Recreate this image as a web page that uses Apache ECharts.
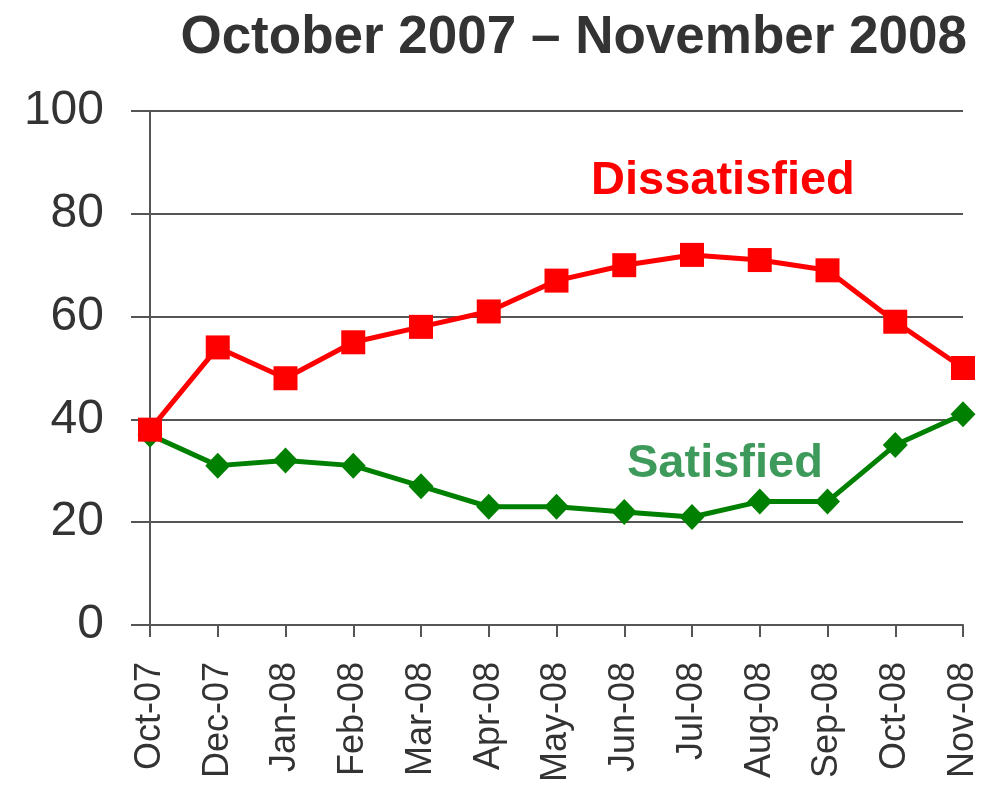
<!DOCTYPE html>
<html>
<head>
<meta charset="utf-8">
<title>Satisfaction</title>
<script src="https://cdn.jsdelivr.net/npm/echarts@6/dist/echarts.min.js"></script>
<style>
  html, body { margin: 0; padding: 0; background: #fff; }
  #main { width: 989px; height: 785px; }
</style>
</head>
<body>
<div id="main"></div>
<script>
var months = ['Oct-07', 'Dec-07', 'Jan-08', 'Feb-08', 'Mar-08', 'Apr-08', 'May-08',
              'Jun-08', 'Jul-08', 'Aug-08', 'Sep-08', 'Oct-08', 'Nov-08'];
var dissatisfied = [38, 54, 48, 55, 58, 61, 67, 70, 72, 71, 69, 59, 50];
var satisfied = [37, 31, 32, 31, 27, 23, 23, 22, 21, 24, 24, 35, 41];
var yTicks = [0, 20, 40, 60, 80, 100];

var font = '"Liberation Sans", Arial, sans-serif';
var myChart = echarts.init(document.getElementById('main'));

var option = {
  animation: false,
  title: {
    text: 'October 2007 \u2013 November 2008',
    right: 17,
    top: 7,
    textStyle: { fontFamily: font, fontSize: 53, fontWeight: 'bold', color: '#333333' }
  },
  grid: { left: 150, right: 26, top: 111, bottom: 153 },
  xAxis: {
    type: 'category',
    boundaryGap: false,
    data: months,
    axisLine: { lineStyle: { color: '#555555', width: 2 } },
    axisTick: { show: true, length: 12, lineStyle: { color: '#555555', width: 2 } },
    axisLabel: { rotate: 90, margin: 37, fontFamily: font, fontSize: 36, color: '#333333', interval: 0 },
    splitLine: { show: false }
  },
  yAxis: {
    type: 'value',
    min: yTicks[0],
    max: yTicks[yTicks.length - 1],
    interval: 20,
    axisLine: { show: true, lineStyle: { color: '#555555', width: 2 } },
    axisTick: { show: true, length: 19, lineStyle: { color: '#555555', width: 2 } },
    axisLabel: { margin: 46, fontFamily: font, fontSize: 48, color: '#333333' },
    splitLine: { show: true, lineStyle: { color: '#555555', width: 2 } }
  },
  series: [
    {
      name: 'Satisfied',
      type: 'line',
      data: satisfied,
      symbol: 'diamond',
      symbolSize: [25, 26],
      lineStyle: { color: '#008000', width: 5 },
      itemStyle: { color: '#008000' },
      z: 2
    },
    {
      name: 'Dissatisfied',
      type: 'line',
      data: dissatisfied,
      symbol: 'rect',
      symbolSize: 24,
      lineStyle: { color: '#ff0000', width: 5 },
      itemStyle: { color: '#ff0000' },
      z: 3
    }
  ],
  graphic: [
    {
      type: 'text', left: 591, top: 158,
      style: { text: 'Dissatisfied', fill: '#ff0000', font: 'bold 47px ' + font }
    },
    {
      type: 'text', left: 627, top: 441,
      style: { text: 'Satisfied', fill: '#3d9a5a', font: 'bold 47px ' + font }
    }
  ]
};

myChart.setOption(option);
</script>
</body>
</html>
